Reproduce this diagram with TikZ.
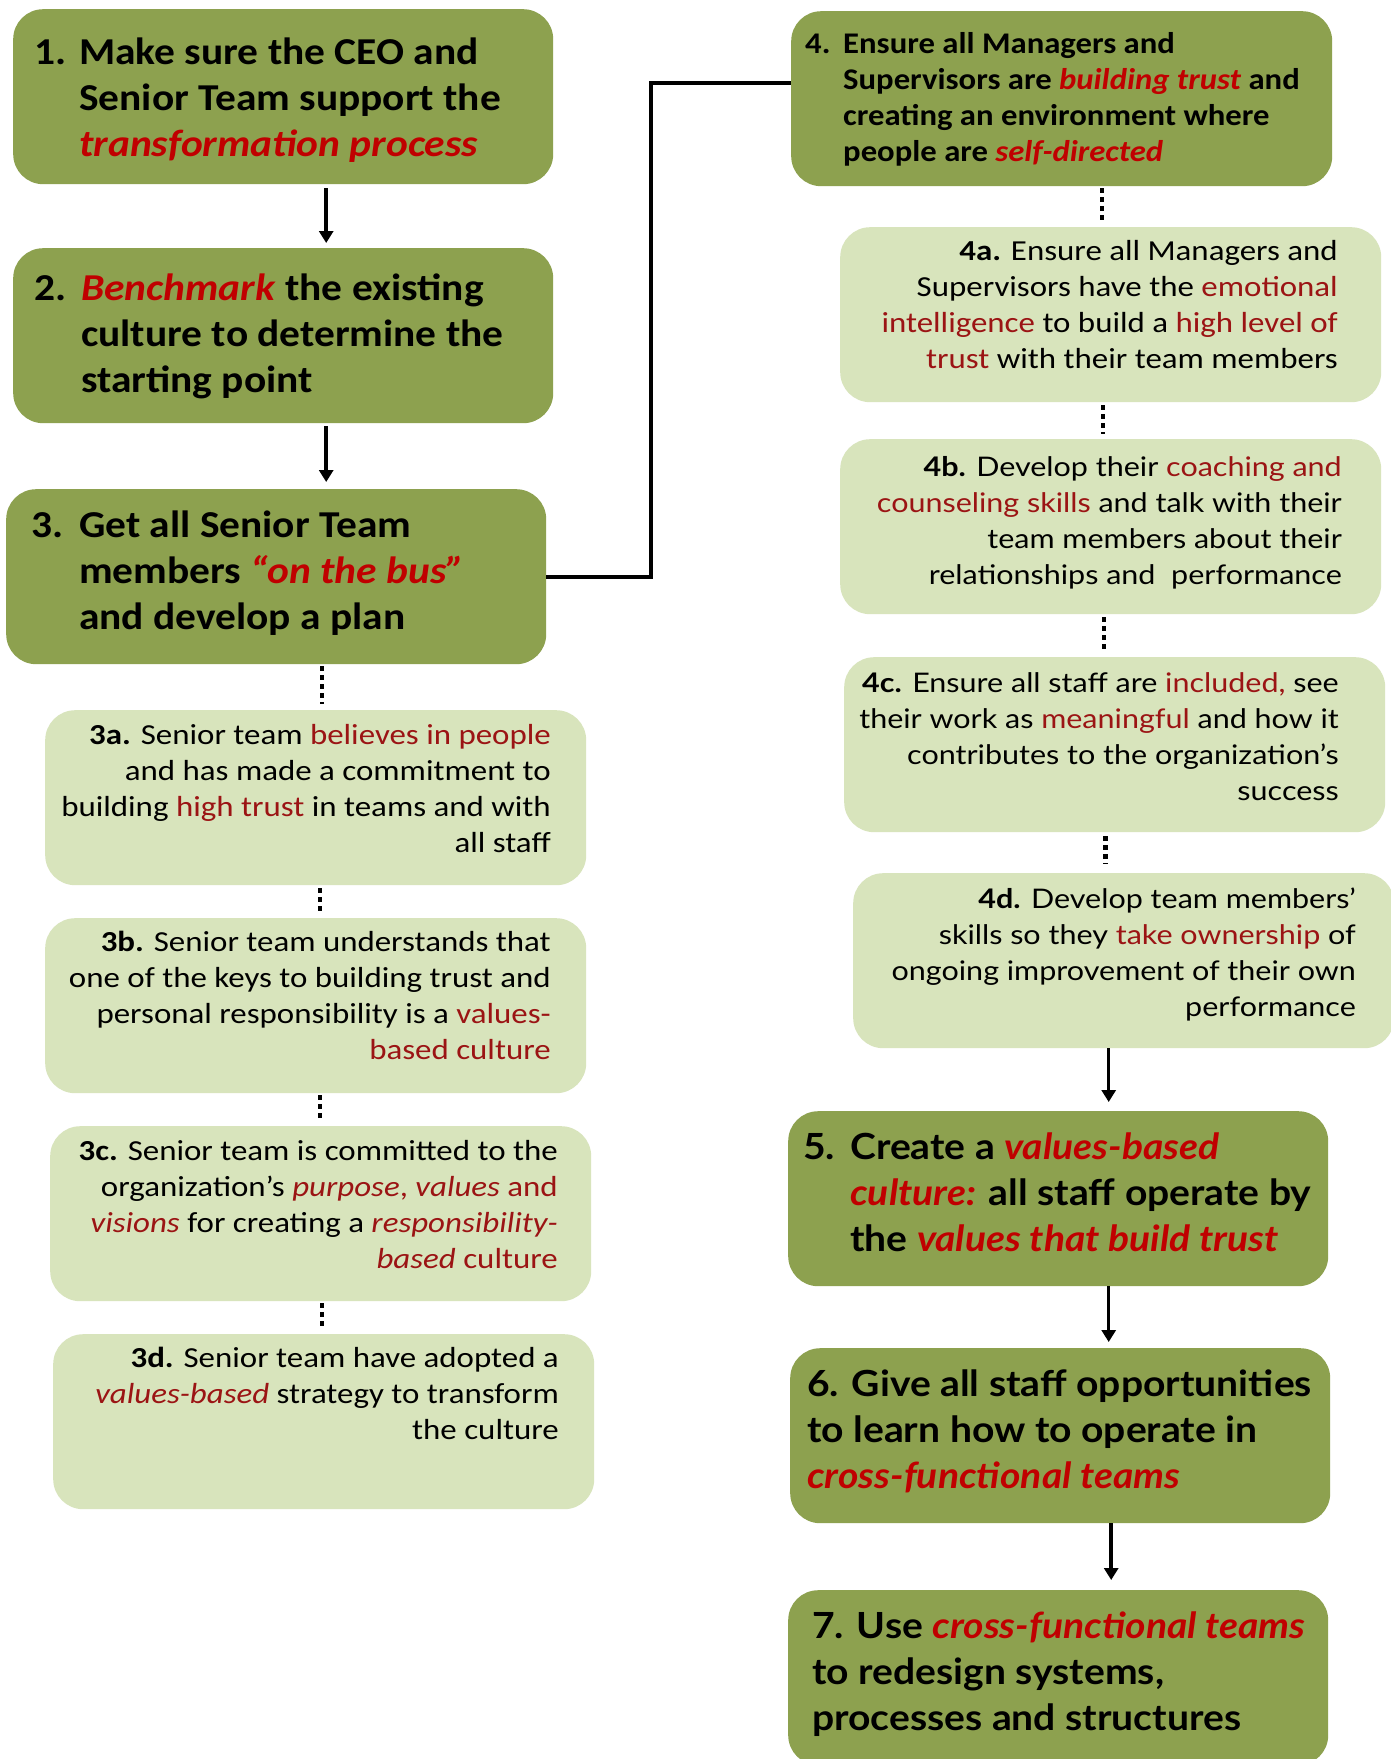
\documentclass[tikz,border=0pt]{standalone}
\usepackage{fontspec}
\setmainfont{Carlito}
\newfontfamily\bigfont[FakeStretch=1.09]{Carlito}
\newfontfamily\smallfont[FakeStretch=1.135]{Carlito}
\newfontfamily\latosmall[FakeStretch=1.13]{Lato}
\newfontfamily\latobig[FakeStretch=1.085]{Lato}
\usetikzlibrary{arrows.meta}
\definecolor{dkgreen}{RGB}{141,161,79}
\definecolor{ltgreen}{RGB}{216,228,188}
\definecolor{hired}{RGB}{192,0,0}
\definecolor{lored}{RGB}{155,20,20}
\newcommand{\hr}[1]{\textcolor{hired}{\textit{#1}}}
\newcommand{\lr}[1]{\textcolor{lored}{#1}}
\tikzset{
  darkbox/.style={fill=dkgreen, rounded corners=30pt, inner sep=0pt, anchor=north west, minimum width=540pt, minimum height=175pt},
  lightbox/.style={fill=ltgreen, rounded corners=30pt, inner sep=0pt, anchor=north west, minimum width=541pt, minimum height=175pt},
  bigtext/.style={inner sep=0pt, anchor=north west, align=left, font=\fontsize{38}{46}\bigfont\bfseries},
  bigtextw/.style={inner sep=0pt, anchor=north west, align=left, font=\fontsize{36}{46}\latobig\bfseries},
  midtext/.style={inner sep=0pt, anchor=north west, align=left, font=\fontsize{30}{36}\bigfont\bfseries},
  smalltext/.style={inner sep=0pt, anchor=north east, align=right, font=\fontsize{29}{36}\smallfont},
  smalltextw/.style={inner sep=0pt, anchor=north east, align=right, font=\fontsize{27}{36}\latosmall},
  arr/.style={line width=3.5pt, -{Triangle[width=14pt,length=12pt]}},
  dots/.style={line width=4.5pt, dash pattern=on 4.5pt off 4.5pt},
  elbow/.style={line width=4pt}
}
\begin{document}
\begin{tikzpicture}[x=1pt,y=-1pt]
\useasboundingbox (0,0) rectangle (1391,1759);
\fill[white] (0,0) rectangle (1391,1759);
% boxes
\node[darkbox] (b1) at (13,9) {};
\node[darkbox] (b2) at (13,248) {};
\node[darkbox] (b3) at (6,489) {};
\node[lightbox] (b3a) at (45,710) {};
\node[lightbox] (b3b) at (45,918) {};
\node[lightbox] (b3c) at (50,1126) {};
\node[lightbox] (b3d) at (53,1334) {};
\node[darkbox, minimum width=541pt] (b4) at (791,11) {};
\node[lightbox] (b4a) at (840,227) {};
\node[lightbox] (b4b) at (840,439) {};
\node[lightbox] (b4c) at (844,657) {};
\node[lightbox] (b4d) at (853,873) {};
\node[darkbox] (b5) at (788,1111) {};
\node[darkbox] (b6) at (790,1348) {};
\node[darkbox] (b7) at (788,1590) {};
% texts
\node[bigtext] (t1) at (34,32) {\strut\makebox[45pt][l]{1.}Make sure the CEO and\\\hspace*{45pt}Senior Team support the\\\hspace*{45pt}\hr{transformation process}};
\node[bigtext] (t2) at (34,268) {\strut\makebox[47pt][l]{2.}\hr{Benchmark} the existing\\\hspace*{47pt}culture to determine the\\\hspace*{47pt}starting point};
\node[bigtext] (t3) at (31,505) {\strut\makebox[48pt][l]{3.}Get all Senior Team\\\hspace*{48pt}members \hr{“on the bus”}\\\hspace*{48pt}and develop a plan};
\node[smalltext] (t3a) at (551,719) {\strut\textbf{3a.} Senior team \lr{believes in people}\\and has made a commitment to\\building \lr{high trust} in teams and with\\all staff};
\node[smalltext] (t3b) at (551,926) {\strut\textbf{3b.} Senior team understands that\\one of the keys to building trust and\\personal responsibility is a \lr{values-}\\\lr{based culture}};
\node[smalltext] (t3c) at (558,1135) {\strut\textbf{3c.} Senior team is committed to the\\organization’s \lr{\textit{purpose}, \textit{values} and}\\\lr{\textit{visions}} for creating a \lr{\textit{responsibility-}}\\\lr{\textit{based} culture}};
\node[smalltext] (t3d) at (559,1342) {\strut\textbf{3d.} Senior team have adopted a\\\lr{\textit{values-based}} strategy to transform\\the culture};
\node[midtext] (t4) at (805,28) {\strut\makebox[38pt][l]{4.}Ensure all Managers and\\\hspace*{38pt}Supervisors are \hr{building trust} and\\\hspace*{38pt}creating an environment where\\\hspace*{38pt}people are \hr{self-directed}};
\node[smalltext] (t4a) at (1338,235) {\strut\textbf{4a.} Ensure all Managers and\\Supervisors have the \lr{emotional}\\\lr{intelligence} to build a \lr{high level of}\\\lr{trust} with their team members};
\node[smalltextw] (t4b) at (1342,451) {\strut\textbf{4b.} Develop their \lr{coaching and}\\\lr{counseling skills} and talk with their\\team members about their\\relationships and\ \ performance};
\node[smalltextw] (t4c) at (1339,667) {\strut\textbf{4c.} Ensure all staff are \lr{included,} see\\their work as \lr{meaningful} and how it\\contributes to the organization’s\\success};
\node[smalltextw] (t4d) at (1356,883) {\strut\textbf{4d.} Develop team members’\\skills so they \lr{take ownership} of\\ongoing improvement of their own\\performance};
\node[bigtextw] (t5) at (803,1127) {\strut\makebox[47pt][l]{5.}Create a \hr{values-based}\\\hspace*{47pt}\hr{culture:} all staff operate by\\\hspace*{47pt}the \hr{values that build trust}};
\node[bigtextw] (t6) at (807,1364) {\strut 6. Give all staff opportunities\\to learn how to operate in\\\hr{cross-functional teams}};
\node[bigtextw] (t7) at (812,1606) {\strut 7. Use \hr{cross-functional teams}\\to redesign systems,\\processes and structures};
% connectors
\draw[arr, shorten <=4pt, shorten >=5pt] ([xshift=43pt]b1.south) -- ([xshift=43pt]b1.south |- b2.north);
\draw[arr, shorten <=3pt, shorten >=7pt] ([xshift=43pt]b2.south) -- ([xshift=43pt]b2.south |- b3.north);
\draw[dots, shorten <=2pt, shorten >=6pt] ([xshift=46pt]b3.south) -- ([xshift=46pt]b3.south |- b3a.north);
\draw[dots, shorten <=3pt, shorten >=4pt] ([xshift=4.5pt]b3a.south) -- ([xshift=4.5pt]b3a.south |- b3b.north);
\draw[dots, shorten <=2pt, shorten >=4pt] ([xshift=4.5pt]b3b.south) -- ([xshift=4.5pt]b3b.south |- b3c.north);
\draw[dots, shorten <=2pt, shorten >=4pt] ([xshift=1.5pt]b3c.south) -- ([xshift=1.5pt]b3c.south |- b3d.north);
\draw[elbow] (b3.east) -- ++(105,0) |- ([yshift=16pt]b4.west);
\draw[dots, shorten <=2pt, shorten >=5pt] ([xshift=40.5pt]b4.south) -- ([xshift=40.5pt]b4.south |- b4a.north);
\draw[dots, shorten <=3pt, shorten >=5pt] ([xshift=-7.5pt]b4a.south) -- ([xshift=-7.5pt]b4a.south |- b4b.north);
\draw[dots, shorten <=3pt, shorten >=6pt] ([xshift=-6.5pt]b4b.south) -- ([xshift=-6.5pt]b4b.south |- b4c.north);
\draw[dots, shorten <=4pt, shorten >=9pt] ([xshift=-9pt]b4c.south) -- ([xshift=-9pt]b4c.south |- b4d.north);
\draw[arr, shorten <=0pt, shorten >=9pt] ([xshift=-15pt]b4d.south) -- ([xshift=-15pt]b4d.south |- b5.north);
\draw[arr, shorten <=0pt, shorten >=6pt] ([xshift=50.5pt]b5.south) -- ([xshift=50.5pt]b5.south |- b6.north);
\draw[arr, shorten <=0pt, shorten >=10pt] ([xshift=51pt]b6.south) -- ([xshift=51pt]b6.south |- b7.north);
\end{tikzpicture}
\end{document}
